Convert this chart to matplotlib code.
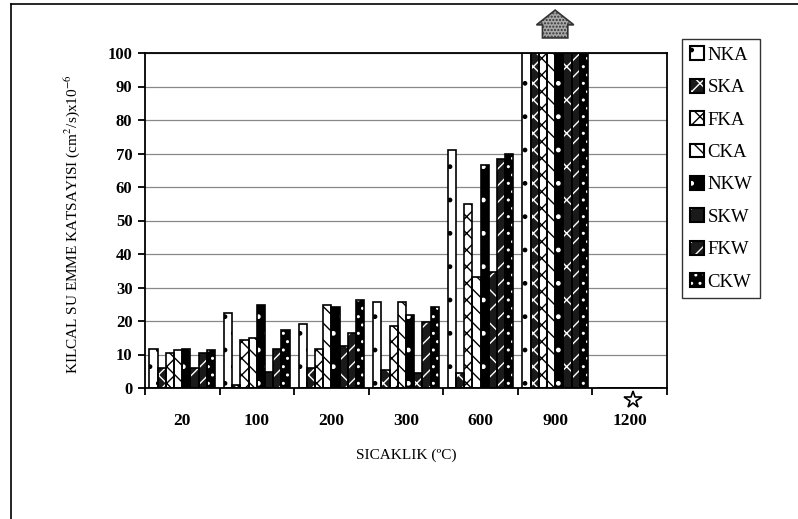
import numpy as np
import matplotlib
matplotlib.use("Agg")
from matplotlib import pyplot as plt
from matplotlib.patches import Patch, FancyArrow
from matplotlib.lines import Line2D

plt.rcParams['font.family'] = ['Liberation Serif', 'DejaVu Serif']
plt.rcParams['mathtext.fontset'] = 'stix'
plt.rcParams['hatch.linewidth'] = 1.0

temps = ['20', '100', '200', '300', '600', '900', '1200']
series = ['NKA', 'SKA', 'FKA', 'CKA', 'NKW', 'SKW', 'FKW', 'CKW']

# values (x10^-6 cm2/s); 900 runs off the top, 1200 has no bars
NKA = [11.5, 22.3, 19.0, 25.7, 71.0, 100, 0]
SKA = [6.0, 1.0, 6.0, 5.4, 4.4, 100, 0]
FKA = [10.4, 14.3, 11.6, 18.5, 55.0, 100, 0]
CKA = [11.3, 15.0, 24.8, 25.7, 33.2, 100, 0]
NKW = [11.7, 24.8, 24.3, 21.8, 66.6, 100, 0]
SKW = [6.0, 4.9, 12.5, 4.5, 34.7, 100, 0]
FKW = [10.4, 11.6, 16.4, 19.8, 68.5, 100, 0]
CKW = [11.3, 17.3, 26.3, 24.3, 69.8, 100, 0]
values = [NKA, SKA, FKA, CKA, NKW, SKW, FKW, CKW]

# (face, hatch colour, hatch)
styles = [
    ('white', 'black', '.'),
    ('#1a1a1a', 'white', 'xx'),
    ('white', 'black', 'xx'),
    ('white', 'black', '\\\\'),
    ('black', 'white', '.'),
    ('#1a1a1a', 'white', 'x'),
    ('#1a1a1a', 'white', '//'),
    ('black', 'white', '..'),
]

fig = plt.figure(figsize=(7.98, 5.19), dpi=100)
ax = fig.add_axes([145/798, 1-388/519, 522/798, 335/519])

x = np.arange(len(temps))
n = len(series)
w = 0.88 / n
handles = []
for i, (name, vals, (fc, hc, hatch)) in enumerate(zip(series, values, styles)):
    pos = x - 0.44 + w * (i + 0.5)
    ax.bar(pos, vals, w, color=fc, edgecolor=hc, hatch=hatch, lw=0, zorder=2)
    ax.bar(pos, vals, w, fill=False, edgecolor='black', lw=1.2, zorder=3)
    handles.append((Patch(facecolor=fc, edgecolor=hc, hatch=hatch, lw=0),
                    Patch(fill=False, edgecolor='black', lw=1.5)))

ax.set_xlim(-0.5, len(temps) - 0.5)
ax.set_ylim(0, 100)
ax.set_yticks(np.arange(0, 101, 10))
ax.yaxis.grid(True, color='#888888', lw=0.9)
ax.set_axisbelow(True)

ax.set_xticks(x)
ax.set_xticklabels(temps, fontsize=12.5, fontweight='bold')
ax.set_xticks(np.arange(-0.5, len(temps)), minor=True)
ax.tick_params(axis='x', which='major', length=0, pad=18)
ax.tick_params(axis='x', which='minor', length=5, width=1.3, direction='out')
ax.tick_params(axis='y', length=5, width=1.3, direction='out', labelsize=12, pad=4)
for t in ax.get_yticklabels():
    t.set_fontweight('bold')
for s in ax.spines.values():
    s.set_linewidth(1.3)

ax.set_xlabel('SICAKLIK (ºC)', fontsize=11)
ax.xaxis.set_label_coords(0.5, -0.182)
ax.set_ylabel('KILCAL SU EMME KATSAYISI (cm$^2$/s)x10$^{-6}$', fontsize=11)
ax.yaxis.set_label_coords(-0.121, 0.49)

# arrow above the 900 group, star under 1200
ax.add_patch(FancyArrow(5, 104.5, 0, 8.3, width=0.34, head_width=0.5,
                        head_length=4.4, length_includes_head=True,
                        facecolor='#a8a8a8', edgecolor='#333333', hatch='.....',
                        lw=1.2, clip_on=False, zorder=4))
ax.plot([6.05], [-3.6], marker='*', ms=13, mfc='white', mec='black', mew=1.2,
        clip_on=False, zorder=5)

leg = ax.legend(handles, series, loc='upper left', bbox_to_anchor=(1.029, 1.042),
                fontsize=13.5, frameon=True, fancybox=False, edgecolor='black',
                handlelength=0.75, handleheight=0.75, handletextpad=0.2,
                labelspacing=0.8, borderpad=0.4, borderaxespad=0)
leg.get_frame().set_linewidth(1.0)

# outer frame of the scanned figure
fig.add_artist(Line2D([11/798, 11/798], [0, 1-4/519], color='black', lw=1.2))
fig.add_artist(Line2D([11/798, 1], [1-4/519, 1-4/519], color='black', lw=1.2))

fig.savefig('out.png', dpi=100)
